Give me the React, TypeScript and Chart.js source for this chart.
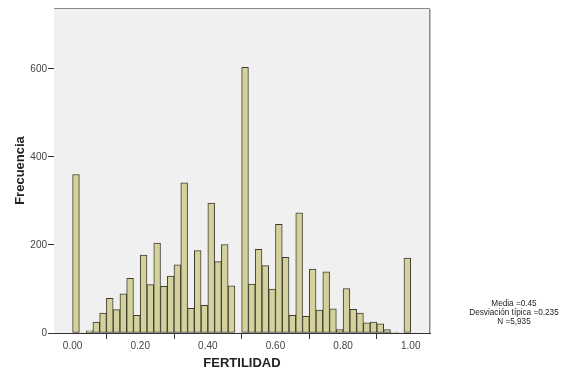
import React, { useEffect, useRef } from "react";
import { Chart, registerables } from "chart.js";

Chart.register(...registerables);

// Bin centers (bin width 0.02)
const binCenters = [
  0.01, 0.03, 0.05, 0.07, 0.09, 0.11, 0.13, 0.15, 0.17, 0.19,
  0.21, 0.23, 0.25, 0.27, 0.29, 0.31, 0.33, 0.35, 0.37, 0.39,
  0.41, 0.43, 0.45, 0.47, 0.49, 0.51, 0.53, 0.55, 0.57, 0.59,
  0.61, 0.63, 0.65, 0.67, 0.69, 0.71, 0.73, 0.75, 0.77, 0.79,
  0.81, 0.83, 0.85, 0.87, 0.89, 0.91, 0.93, 0.95, 0.97, 0.99,
];

// Frequencies per bin
const frequencies = [
  360, 0, 5, 25, 45, 79, 53, 89, 124, 40,
  177, 110, 204, 106, 129, 155, 341, 56, 187, 63,
  295, 162, 201, 107, 0, 603, 111, 190, 153, 100,
  247, 172, 40, 273, 38, 145, 52, 139, 55, 8,
  101, 54, 45, 23, 25, 21, 8, 2, 0, 170,
];

const xTicks = [0, 0.2, 0.4, 0.6, 0.8, 1.0];
const yTicks = [0, 200, 400, 600];
const statsLines = ["Media =0.45", "Desviación típica =0.235", "N =5,935"];

const FONT = "'Liberation Sans', Arial, sans-serif";

export default function App() {
  const ref = useRef<HTMLCanvasElement | null>(null);

  useEffect(() => {
    if (!ref.current) return;
    const framePlugin = {
      id: "frame",
      beforeDatasetsDraw(chart: any) {
        const { ctx, chartArea: a } = chart;
        ctx.save();
        ctx.fillStyle = "#F0F0F0";
        ctx.fillRect(a.left, a.top, a.right - a.left, a.bottom - a.top);
        ctx.restore();
      },
      afterDraw(chart: any) {
        const { ctx, chartArea: a } = chart;
        ctx.save();
        ctx.strokeStyle = "#8a8a8a";
        ctx.lineWidth = 1;
        ctx.beginPath();
        ctx.moveTo(a.left, a.top + 0.5);
        ctx.lineTo(a.right - 0.5, a.top + 0.5);
        ctx.lineTo(a.right - 0.5, a.bottom);
        ctx.stroke();
        ctx.strokeStyle = "#c8c8c8";
        ctx.beginPath();
        ctx.moveTo(a.right + 0.5, a.top + 1);
        ctx.lineTo(a.right + 0.5, a.bottom);
        ctx.stroke();
        ctx.fillStyle = "#222";
        ctx.font = `8.2px ${FONT}`;
        ctx.textAlign = "center";
        ctx.textBaseline = "middle";
        const ys = [304, 313, 322];
        statsLines.forEach((t, i) => ctx.fillText(t, 514, ys[i]));
        ctx.restore();
      },
    };

    const chart = new Chart(ref.current, {
      type: "bar",
      data: {
        datasets: [
          {
            data: binCenters.map((x, i) => ({ x, y: frequencies[i] })),
            backgroundColor: "#D5D19C",
            borderColor: "#3c3c30",
            borderWidth: (c: any) => (c.raw && c.raw.y > 0 ? 1 : 0),
            borderSkipped: false,
            barPercentage: 1,
            categoryPercentage: 1,
          },
        ],
      },
      options: {
        animation: false,
        responsive: false,
        maintainAspectRatio: false,
        layout: { padding: { left: 0, right: 136, top: 8, bottom: 0 } },
        plugins: { legend: { display: false }, tooltip: { enabled: false } },
        scales: {
          x: {
            type: "linear",
            min: -0.055,
            max: 1.057,
            offset: false,
            afterBuildTicks: (s: any) => {
              s.ticks = xTicks.map((v) => ({ value: v }));
            },
            afterFit: (s: any) => {
              s.height = 38;
            },
            ticks: {
              includeBounds: false,
              padding: 1,
              color: "#444",
              font: { family: FONT, size: 10 },
              callback: (v: any) => Number(v).toFixed(2),
              maxRotation: 0,
            },
            grid: { drawOnChartArea: false, tickLength: 6, color: "#333" },
            border: { color: "#333", width: 1 },
            title: {
              display: true,
              text: "FERTILIDAD",
              color: "#222",
              font: { family: FONT, size: 13, weight: "bold" },
              padding: { top: 0, bottom: 0 },
            },
          },
          y: {
            min: 0,
            max: 738,
            afterBuildTicks: (s: any) => {
              s.ticks = yTicks.map((v) => ({ value: v }));
            },
            afterFit: (s: any) => {
              s.width = 54;
            },
            ticks: {
              includeBounds: false,
              padding: 1,
              color: "#444",
              font: { family: FONT, size: 10 },
            },
            grid: { drawOnChartArea: false, tickLength: 6, color: "#333" },
            border: { color: "#333", width: 1 },
            title: {
              display: true,
              text: "Frecuencia",
              color: "#222",
              font: { family: FONT, size: 13, weight: "bold" },
              padding: { top: 13, bottom: 0 },
            },
          },
        },
      },
      plugins: [framePlugin],
    } as any);
    return () => chart.destroy();
  }, []);

  return (
    <div style={{ position: "absolute", left: 0, top: 0, width: 566, height: 371, background: "#fff" }}>
      <canvas ref={ref} width={566} height={371} style={{ width: 566, height: 371 }} />
    </div>
  );
}
